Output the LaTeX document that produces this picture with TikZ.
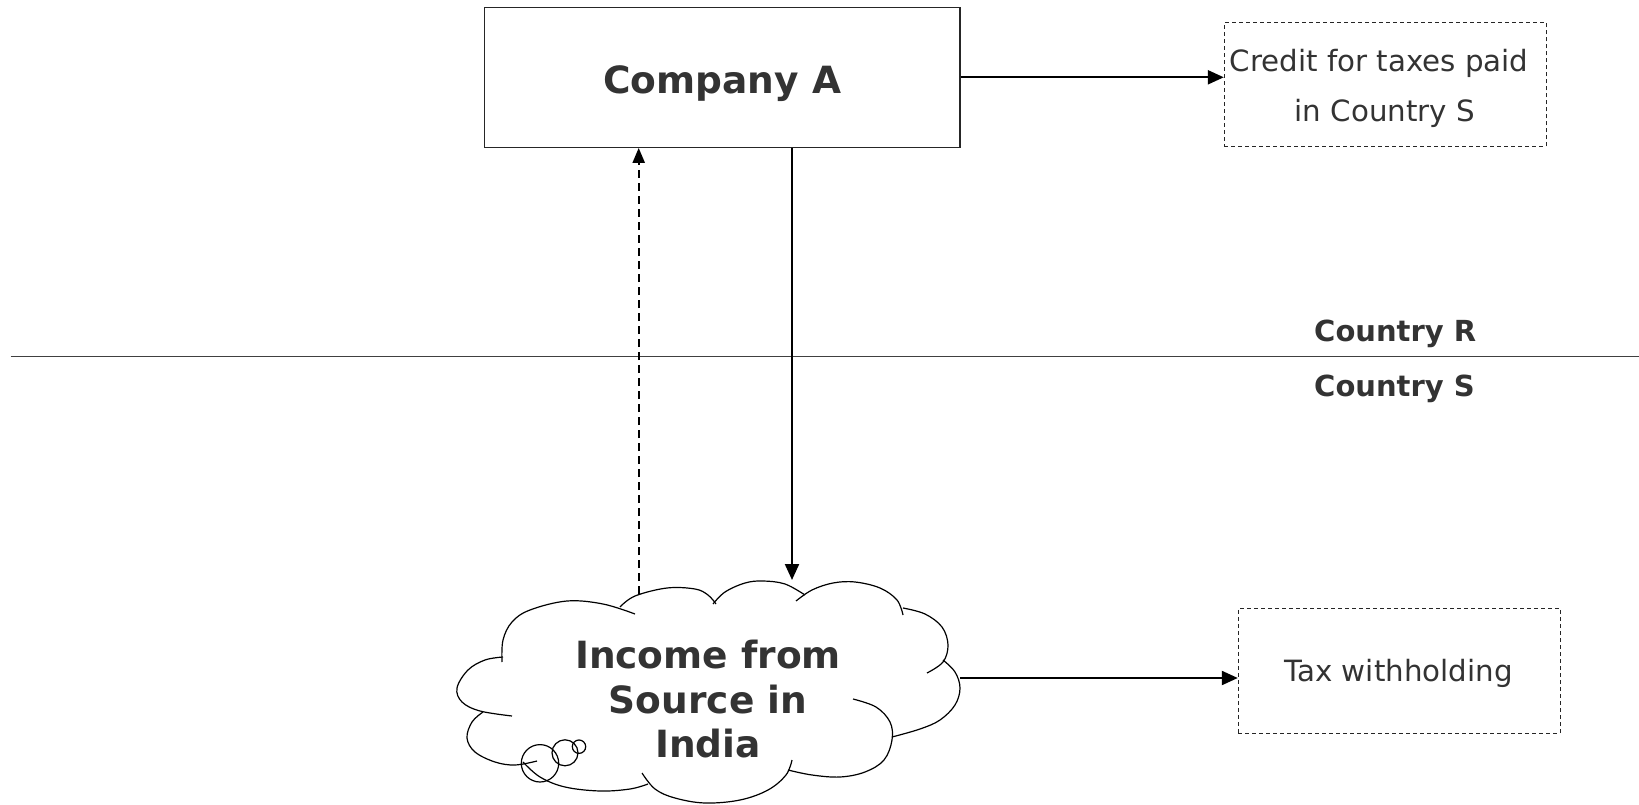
\documentclass[tikz,border=0pt]{standalone}
\usepackage{fontspec}
\setmainfont{DejaVu Sans}
\usetikzlibrary{arrows.meta,calc}
\definecolor{txt}{HTML}{333333}
\begin{document}
\begin{tikzpicture}[x=1pt,y=-1pt,
  every node/.style={text=txt, inner sep=0pt},
  box/.style={draw=black!85, line width=1.2pt, rectangle},
  dbox/.style={draw=black!85, line width=1.1pt, dash pattern=on 4pt off 3pt, rectangle},
  conn/.style={line width=2.2pt, -{Triangle[length=16pt,width=14pt]}},
  puff/.style={line width=1.2pt},
  bigbold/.style={font=\fontsize{37.5}{44.5}\selectfont\bfseries},
  midbold/.style={font=\fontsize{29}{34}\selectfont\bfseries},
  plain/.style={font=\fontsize{29.3}{35}\selectfont}
]
\useasboundingbox (0,0) rectangle (1639,805);

% boxes
\node[box, minimum width=475.3pt, minimum height=140pt] (comp) at (722.3,77.3) {};
\node[bigbold, anchor=base] (comptext) at (722.3,93.3) {Company A};
\node[dbox, minimum width=321.7pt, minimum height=124pt] (credit) at (1385.2,84.7) {};
\node[plain, anchor=base] (credit1) at (1379,71.7) {Credit for taxes paid};
\node[plain, anchor=base] (credit2) at (1385,121.7) {in Country S};
\node[dbox, minimum width=321.7pt, minimum height=125pt] (tax) at (1399.2,670.8) {};
\node[plain, anchor=base] (taxtext) at (1398.5,681.7) {Tax withholding};

% country labels and border
\coordinate (lineL) at (10.5,356.7);
\coordinate (lineR) at (1639,356.7);
\draw[line width=1.2pt, draw=black!75] (lineL) -- (lineR);
\node[midbold, anchor=base west] (cR) at (1314,341.7) {Country R};
\node[midbold, anchor=base west] (cS) at (1314,396.5) {Country S};

% cloud
\begin{scope}[puff]
\draw plot[smooth, tension=0.6] coordinates {(502,662) (503,640) (512,622) (530,610) (567,601) (603,604) (635,614)};
\draw plot[smooth, tension=0.6] coordinates {(620,607) (635,596) (667,588) (695,589) (708,595) (716,604)};
\draw plot[smooth, tension=0.6] coordinates {(713,604) (725,592) (745,583) (763,581) (785,584) (805,595)};
\draw plot[smooth, tension=0.6] coordinates {(796,601) (812,590) (833,583) (855,582) (880,588) (897,600) (903,615)};
\draw plot[smooth, tension=0.6] coordinates {(903,608) (925,614) (942,627) (948,645) (943,662) (927,673)};
\draw plot[smooth, tension=0.6] coordinates {(943,660) (955,672) (960,688) (955,705) (940,720) (920,729) (892,737)};
\draw plot[smooth, tension=0.6] coordinates {(853,699) (876,707) (890,722) (892,740) (884,760) (865,772) (840,777) (812,775) (788,770)};
\draw plot[smooth, tension=0.6] coordinates {(792,760) (786,775) (768,790) (740,800) (705,803) (675,798) (655,789) (642,773)};
\draw plot[smooth, tension=0.6] coordinates {(523,762) (540,777) (565,787) (600,791) (630,789) (648,784)};
\draw plot[smooth, tension=0.6] coordinates {(483,712) (472,722) (467,738) (475,752) (495,762) (515,765) (537,761)};
\draw plot[smooth, tension=0.6] coordinates {(503,657) (485,660) (468,670) (457,688) (462,702) (480,711) (512,716)};
\draw (540,763.3) circle[radius=18.7];
\draw (565,752.8) circle[radius=13];
\draw (579,746.7) circle[radius=6.7];
\end{scope}
\node[bigbold, align=center] (cloud) at (708,699.3) {Income from\\Source in\\India};

% connector end points on the cloud
\coordinate (cloudtop) at (792,580);
\coordinate (cloudtopL) at (638.7,594);
\coordinate (cloudright) at (960,678);

% connectors
\draw[conn] (comp.east) -- (comp.east -| credit.west);
\draw[conn] (comp.south -| cloudtop) -- (cloudtop);
\draw[conn, dash pattern=on 8pt off 5pt, -{Triangle[length=15pt,width=12pt]}] (cloudtopL) -- (cloudtopL |- comp.south);
\draw[conn] (cloudright) -- (cloudright -| tax.west);
\end{tikzpicture}
\end{document}
